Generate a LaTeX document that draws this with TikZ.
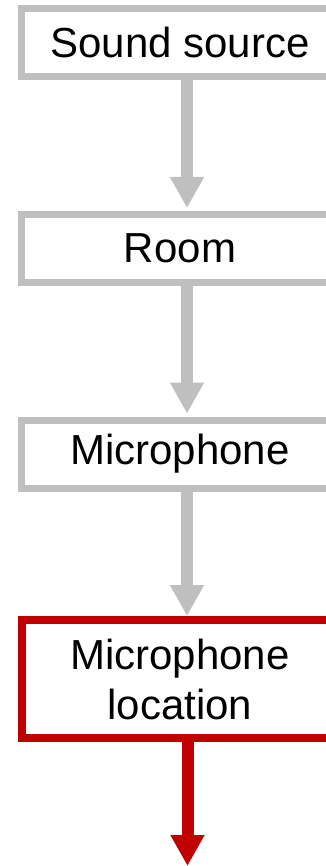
\documentclass[tikz,border=0pt]{standalone}
\usepackage{fontspec}
\setmainfont{Liberation Sans}
\usetikzlibrary{arrows.meta}
\definecolor{flowgray}{HTML}{BFBFBF}
\definecolor{flowred}{HTML}{C00000}
\begin{document}
\begin{tikzpicture}[x=1pt,y=-1pt,
  stagebox/.style={draw=flowgray,line width=7pt,fill=white,minimum width=317pt,
    minimum height=68pt,inner sep=0pt,align=center,
    font=\fontsize{42}{50}\selectfont},
  focusbox/.style={stagebox,draw=flowred,line width=8pt,minimum height=118pt},
  flow/.style={draw=flowgray,line width=12pt,
    -{Triangle[width=32pt,length=31pt]}},
  focusflow/.style={flow,draw=flowred,fill=flowred}]
  \useasboundingbox (0,0) rectangle (326,866);
  \clip (0,0) rectangle (326,866);
  \node[stagebox] (src)  at (180,42.5) {Sound source};
  \node[stagebox] (room) at (180,248.5) {Room};
  \node[stagebox] (mic)  at (180,454) {Microphone};
  \node[focusbox] (loc)  at (180,679) {Microphone\\location};
  \coordinate (out) at (187.5,866);
  \draw[flow,fill=flowgray,shorten >=3pt] ([xshift=7pt]src.south) -- ([xshift=7pt]room.north);
  \draw[flow,fill=flowgray,shorten >=3pt] ([xshift=7pt]room.south) -- ([xshift=7pt]mic.north);
  \draw[flow,fill=flowgray] ([xshift=7pt]mic.south) -- ([xshift=7pt]loc.north);
  \draw[focusflow] ([xshift=7.5pt,yshift=3pt]loc.south) -- (out);
\end{tikzpicture}
\end{document}
